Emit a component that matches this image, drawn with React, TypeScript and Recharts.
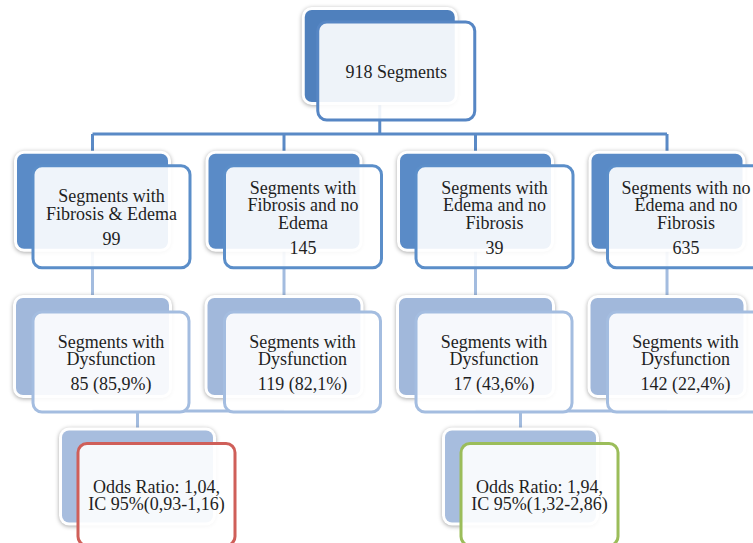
import { ScatterChart, Scatter, XAxis, YAxis } from 'recharts';

// values
const totalSegments = 918;
const groupLabels = [
  ['Segments with', 'Fibrosis & Edema'],
  ['Segments with', 'Fibrosis and no', 'Edema'],
  ['Segments with', 'Edema and no', 'Fibrosis'],
  ['Segments with no', 'Edema and no', 'Fibrosis'],
];
const groupCounts = [99, 145, 39, 635];
const dysfunctionLabel = ['Segments with', 'Dysfunction'];
const dysfunctionCounts = [85, 119, 17, 142];
const dysfunctionPct = [85.9, 82.1, 43.6, 22.4];
const oddsRatios = [1.04, 1.94];
const ciLow = [0.93, 1.32];
const ciHigh = [1.16, 2.86];

// layout in axis units (slot = column, level = row)
const rootSlot = 1.5;
const oddsLevel = 2.895;
const oddsOffset = 0.235;
const busTop = 0.537;
const busBottom = 2.444;

const fmt = (v: number, d: number) => v.toFixed(d).replace('.', ',');

const styles: Record<string, any> = {
  root: { back: '#4f80bd', stroke: '#5686c4', w: 150, h: 92, fw: 157, fh: 98, dx: 13, dy: 12 },
  group: { back: '#5a8bc7', stroke: '#5b8ec9', w: 151, h: 95, fw: 157, fh: 102, dx: 16, dy: 12 },
  dys: { back: '#a1b8db', stroke: '#a4bde0', w: 153, h: 97, fw: 156, fh: 100, dx: 17, dy: 14 },
  oddsA: { back: '#a7bdde', stroke: '#cf5f59', w: 151, h: 92, fw: 157, fh: 102, dx: 16, dy: 13 },
  oddsB: { back: '#a7bdde', stroke: '#9bbd5a', w: 151, h: 92, fw: 157, fh: 102, dx: 16, dy: 13 },
};

const nodes = [
  { x: rootSlot, y: 0, kind: 'root', lines: [`${totalSegments} Segments`], value: '' },
  ...groupCounts.map((c, i) => ({ x: i, y: 1, kind: 'group', lines: groupLabels[i], value: String(c) })),
  ...dysfunctionCounts.map((c, i) => ({
    x: i, y: 2, kind: 'dys', lines: dysfunctionLabel, value: `${c} (${fmt(dysfunctionPct[i], 1)}%)`,
  })),
  ...oddsRatios.map((r, i) => ({
    x: i * 2 + oddsOffset, y: oddsLevel, kind: i === 0 ? 'oddsA' : 'oddsB',
    lines: [`Odds Ratio: ${fmt(r, 2)},`, `IC 95%(${fmt(ciLow[i], 2)}-${fmt(ciHigh[i], 2)})`], value: '',
  })),
];

const dark = '#5a8ac6';
const light = '#a3bcdf';
const links: { pts: { x: number; y: number }[]; color: string }[] = [
  { pts: [{ x: rootSlot, y: 0 }, { x: rootSlot, y: busTop }], color: dark },
  { pts: [{ x: 0, y: busTop }, { x: 3, y: busTop }], color: dark },
  ...[0, 1, 2, 3].map((k) => ({ pts: [{ x: k, y: busTop }, { x: k, y: 1 }], color: dark })),
  ...[0, 1, 2, 3].map((k) => ({ pts: [{ x: k, y: 1 }, { x: k, y: 2 }], color: light })),
  ...[0, 2].map((k) => ({ pts: [{ x: k, y: busBottom }, { x: k + 1, y: busBottom }], color: light })),
  ...[0, 2].map((k) => ({ pts: [{ x: k + oddsOffset, y: busBottom }, { x: k + oddsOffset, y: oddsLevel }], color: light })),
];

const Node = (props: any) => {
  const { cx, cy, payload } = props;
  const s = styles[payload.kind];
  const bx = cx - s.w / 2;
  const by = cy - s.h / 2;
  const fx = bx + s.dx;
  const fy = by + s.dy;
  const mid = fx + s.fw / 2;
  const lineH = 17.5;
  const gap = payload.value ? 25 : 0;
  const n = payload.lines.length;
  const span = (n - 1) * lineH + gap;
  const first = fy + s.fh / 2 - span / 2 + 1;
  return (
    <g>
      <rect x={bx - 3} y={by - 3} width={s.w + 6} height={s.h + 6} rx={10} fill="#fff"
        style={{ filter: 'drop-shadow(0px 1px 2px rgba(0,0,0,0.35))' }} />
      <rect x={bx} y={by} width={s.w} height={s.h} rx={7} fill={s.back} />
      <rect x={fx} y={fy} width={s.fw} height={s.fh} rx={9} fill="#fff" fillOpacity={0.9}
        stroke={s.stroke} strokeWidth={3} />
      <text x={mid} y={first} textAnchor="middle" dominantBaseline="central"
        fontFamily="'Liberation Serif', serif" fontSize={18} fill="#1f1f1f">
        {payload.lines.map((t: string, i: number) => (
          <tspan key={i} x={mid} y={first + i * lineH}>{t}</tspan>
        ))}
        {payload.value && <tspan x={mid} y={first + (n - 1) * lineH + gap}>{payload.value}</tspan>}
      </text>
    </g>
  );
};

export default function App() {
  return (
    <div style={{ position: 'fixed', left: 0, top: 0, background: '#fff' }}>
      <ScatterChart width={753} height={543} margin={{ top: 0, right: 0, bottom: 0, left: 0 }}>
        <XAxis type="number" dataKey="x" domain={[-0.483, 3.449]} allowDataOverflow hide />
        <YAxis type="number" dataKey="y" domain={[-0.3855, 3.3528]} allowDataOverflow reversed hide />
        {links.map((l, i) => (
          <Scatter key={`l${i}`} data={l.pts} line={{ stroke: l.color, strokeWidth: 3 }}
            shape={() => <g />} isAnimationActive={false} />
        ))}
        <Scatter data={nodes} shape={(p: any) => <Node {...p} />} isAnimationActive={false} />
      </ScatterChart>
    </div>
  );
}
